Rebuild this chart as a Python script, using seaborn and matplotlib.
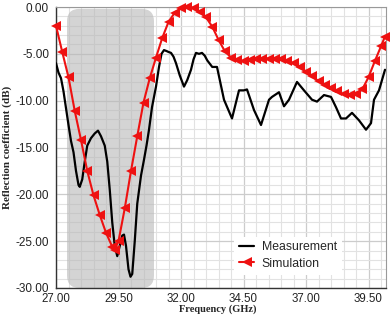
import numpy as np
import pandas as pd
import matplotlib
matplotlib.use("Agg")
import matplotlib.pyplot as plt
from matplotlib.patches import FancyBboxPatch
from matplotlib.ticker import MultipleLocator, FormatStrFormatter
import seaborn as sns

# ---- data ----
meas_freq = [27.00, 27.10, 27.20, 27.30, 27.40, 27.50, 27.60, 27.70, 27.80, 27.90, 27.95,
             28.05, 28.15, 28.25, 28.40, 28.55, 28.68, 28.80, 28.95, 29.05, 29.15, 29.25,
             29.35, 29.45, 29.55, 29.65, 29.72, 29.80, 29.90, 29.98, 30.05, 30.15, 30.25,
             30.40, 30.52, 30.62, 30.72, 30.84, 31.00, 31.12, 31.22, 31.32, 31.42, 31.50,
             31.60, 31.70, 31.80, 31.95, 32.12, 32.25, 32.40, 32.50, 32.60, 32.72, 32.84,
             32.95, 33.05, 33.25, 33.44, 33.72, 34.04, 34.32, 34.52, 34.64, 34.92, 35.20,
             35.52, 35.64, 35.92, 36.12, 36.32, 36.64, 36.92, 37.24, 37.44, 37.72, 38.00,
             38.20, 38.40, 38.60, 38.84, 39.12, 39.40, 39.60, 39.72, 39.92, 40.16]
meas_db = [-6.0, -7.0, -7.6, -9.0, -10.8, -12.6, -14.3, -15.5, -17.5, -19.0, -19.2,
           -18.4, -16.5, -14.8, -14.0, -13.5, -13.2, -13.8, -14.8, -16.5, -19.5, -23.0,
           -25.5, -26.6, -25.5, -24.4, -24.3, -25.5, -28.0, -28.8, -28.5, -25.0, -21.0,
           -18.0, -16.3, -14.8, -13.1, -10.7, -8.5, -6.4, -5.0, -4.6, -4.7, -4.8,
           -4.9, -5.3, -6.0, -7.3, -8.5, -7.8, -6.7, -5.6, -4.9, -5.0, -4.9,
           -5.2, -5.7, -6.4, -6.4, -9.9, -11.9, -8.9, -8.9, -8.8, -11.0, -12.6,
           -9.9, -9.6, -9.1, -10.6, -9.9, -8.0, -8.9, -9.9, -10.1, -9.4, -9.6,
           -10.7, -11.9, -11.9, -11.3, -12.1, -13.1, -12.4, -9.9, -8.9, -6.7]

sim_freq = [27.00, 27.25, 27.50, 27.75, 28.00, 28.25, 28.50, 28.75, 29.00, 29.25, 29.35,
            29.50, 29.75, 30.00, 30.25, 30.50, 30.75, 31.00, 31.25, 31.50, 31.75, 32.00,
            32.25, 32.50, 32.75, 33.00, 33.25, 33.50, 33.75, 34.00, 34.25, 34.50, 34.75,
            35.00, 35.25, 35.50, 35.75, 36.00, 36.25, 36.50, 36.75, 37.00, 37.25, 37.50,
            37.75, 38.00, 38.25, 38.50, 38.75, 39.00, 39.25, 39.50, 39.75, 40.00, 40.15]
sim_db = [-2.0, -4.8, -7.5, -11.1, -14.2, -17.5, -20.1, -22.2, -24.1, -25.6, -25.9,
          -25.0, -21.5, -17.5, -13.8, -10.2, -7.6, -5.4, -3.3, -1.6, -0.6, -0.15,
          0.0, -0.1, -0.5, -1.1, -2.1, -3.5, -4.7, -5.4, -5.7, -5.8, -5.7,
          -5.6, -5.5, -5.5, -5.5, -5.6, -5.8, -6.0, -6.4, -6.9, -7.4, -7.9,
          -8.3, -8.7, -9.0, -9.3, -9.4, -9.3, -8.8, -7.5, -5.8, -4.2, -3.2]

x_ticks = [27.00, 29.50, 32.00, 34.50, 37.00, 39.50]
y_ticks = [0.00, -5.00, -10.00, -15.00, -20.00, -25.00, -30.00]
band = (27.44, 30.92)

sns.set_style("white")
plt.rcParams['font.family'] = ['Liberation Sans', 'DejaVu Sans']

fig = plt.figure(figsize=(3.9, 3.15), dpi=100)
ax = fig.add_axes([56/390, 1-288/315, 330/390, 281/315])

ax.set_xlim(27.0, 40.2)
ax.set_ylim(-30.0, 0.0)

# grid
ax.xaxis.set_minor_locator(MultipleLocator(0.5))
ax.yaxis.set_minor_locator(MultipleLocator(1.0))
ax.set_xticks(x_ticks)
ax.set_yticks(y_ticks)
ax.xaxis.set_major_formatter(FormatStrFormatter('%.2f'))
ax.yaxis.set_major_formatter(FormatStrFormatter('%.2f'))
ax.grid(True, which='minor', color='#e2e2e2', linewidth=0.8, zorder=0)
ax.grid(True, which='major', color='#cccccc', linewidth=0.9, zorder=0)
ax.set_axisbelow(True)

# shaded band
asp = (1/9.37) / (1/25.0)
patch = FancyBboxPatch((band[0], -30.0), band[1]-band[0], 29.8,
                       boxstyle="round,pad=0,rounding_size=0.5",
                       mutation_aspect=asp, facecolor='#b8b8b8', alpha=0.6,
                       edgecolor='none', zorder=1, clip_on=True)
ax.add_patch(patch)

meas = pd.DataFrame({'f': meas_freq, 'db': meas_db})
sim = pd.DataFrame({'f': sim_freq, 'db': sim_db})

sns.lineplot(data=meas, x='f', y='db', color='black', linewidth=1.6,
             ax=ax, label='Measurement', zorder=3)
sns.lineplot(data=sim, x='f', y='db', color='#ee1111', linewidth=1.5,
             marker='<', markersize=6.5, markeredgewidth=0, ax=ax,
             label='Simulation', zorder=4, clip_on=False)

ax.tick_params(axis='both', which='major', labelsize=8.5, length=4, width=0.8,
               direction='out', color='#333333', pad=1)
ax.tick_params(axis='both', which='minor', length=2.5, width=0.6,
               direction='out', color='#333333')
ax.tick_params(axis='x', which='major', length=3, pad=0.5, labelsize=8.3)
for lab in ax.get_xticklabels() + ax.get_yticklabels():
    lab.set_color('#222222')

for s in ['left', 'bottom']:
    ax.spines[s].set_color('#333333')
    ax.spines[s].set_linewidth(1.0)
for s in ['top', 'right']:
    ax.spines[s].set_color('#999999')
    ax.spines[s].set_linewidth(0.8)

ax.set_ylabel('Reflection coefficient (dB)', fontfamily='Liberation Serif',
              fontweight='bold', fontsize=8, labelpad=1)
ax.set_xlabel('Frequency (GHz)', fontfamily='Liberation Serif',
              fontweight='bold', fontsize=7.5, labelpad=0)
ax.yaxis.set_label_coords(-0.132, 0.5)
ax.xaxis.set_label_coords(0.49, -0.0935)
ax.xaxis.label.set_va('bottom')

leg = ax.legend(loc='upper left', bbox_to_anchor=(0.52, 0.205), frameon=True,
                fontsize=8.8, handlelength=1.3, handletextpad=0.6,
                labelspacing=0.35, borderpad=0.4, fancybox=False)
leg.get_frame().set_edgecolor('none')
leg.get_frame().set_facecolor('white')
leg.get_frame().set_alpha(1.0)
leg.set_zorder(5)

fig.savefig('out.png', dpi=100)
